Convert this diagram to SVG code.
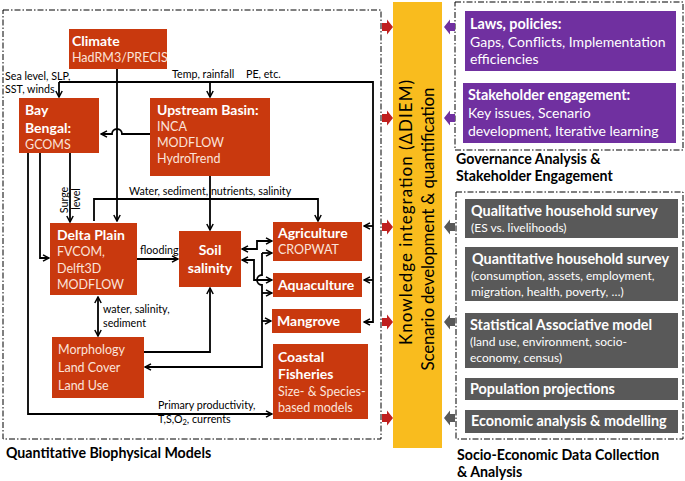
<svg xmlns="http://www.w3.org/2000/svg" width="685" height="481" viewBox="0 0 685 481">
<defs>
<marker id="ah" viewBox="0 0 8 8" refX="7" refY="4" markerWidth="8" markerHeight="8" markerUnits="userSpaceOnUse" orient="auto-start-reverse">
<path d="M1,0.8 L7,4 L1,7.2" fill="none" stroke="#000" stroke-width="1.5"/>
</marker>
<path id="rarrow" d="M0,-4 H5 V-7.5 L11,0 L5,7.5 V4 H0 Z"/>
</defs>
<style>
text{font-family:Lato,"Liberation Sans",sans-serif}
.box{fill:#c9390e}
.pbox{fill:#7030a0}
.gbox{fill:#595959}
.bt{font-weight:bold;font-size:14px;fill:#fff}
.bx{font-size:12.5px;fill:#fbe3da}
.lb{font-size:10.7px;fill:#000}
.rt{font-weight:bold;font-size:14.4px;fill:#fff}
.rx{font-size:14px;fill:#fff}
.rs{font-size:12px;fill:#fff}
.hd{font-weight:bold;font-size:14.2px;fill:#000}
.dash{fill:none;stroke:#000;stroke-width:1;stroke-dasharray:6 2 1.5 2}
.cn path{fill:none;stroke:#000;stroke-width:1.8}
</style>

<!-- dashed group frames -->
<rect class="dash" x="3" y="10" width="378" height="429"/>
<rect class="dash" x="455" y="2" width="228" height="148"/>
<rect class="dash" x="456" y="192" width="227" height="247"/>

<!-- central yellow bar -->
<g id="knowledge">
<rect x="393" y="2" width="49" height="446" fill="#f9bc1e"/>
<text transform="translate(412,212.5) rotate(-90)" text-anchor="middle" font-family="Liberation Sans,Arial,sans-serif" font-size="17" textLength="265" lengthAdjust="spacing" fill="#000">Knowledge integration (ΔDIEM)</text>
<text transform="translate(434,229) rotate(-90)" text-anchor="middle" font-family="Liberation Sans,Arial,sans-serif" font-size="17" textLength="283" lengthAdjust="spacing" fill="#000">Scenario development &amp; quantification</text>
</g>

<!-- block arrows -->
<g id="block-arrows">
<g fill="#c0201f">
<use href="#rarrow" transform="translate(382,27)"/>
<use href="#rarrow" transform="translate(382,118)"/>
<use href="#rarrow" transform="translate(382,227)"/>
<use href="#rarrow" transform="translate(382,322)"/>
<use href="#rarrow" transform="translate(382,418)"/>
</g>
<g fill="#7030a0">
<use href="#rarrow" transform="translate(455,27) scale(-1,1)"/>
<use href="#rarrow" transform="translate(455,118) scale(-1,1)"/>
</g>
<g fill="#595959">
<use href="#rarrow" transform="translate(455,227) scale(-1,1)"/>
<use href="#rarrow" transform="translate(455,322) scale(-1,1)"/>
<use href="#rarrow" transform="translate(455,418) scale(-1,1)"/>
</g>
</g>

<!-- connectors -->
<g id="connectors" class="cn">
<path d="M117,69 V221" marker-end="url(#ah)"/>
<path d="M59,82 H373 V322 H364" marker-end="url(#ah)"/>
<path d="M59,82 V97" marker-end="url(#ah)"/>
<path d="M210,82 V97" marker-end="url(#ah)"/>
<path d="M373,226 H364" marker-end="url(#ah)"/>
<path d="M373,280 H364" marker-end="url(#ah)"/>
<path d="M150,134 H122 A5,5 0 0 0 112,134 H101" marker-end="url(#ah)"/>
<path d="M210,176 V230" marker-end="url(#ah)"/>
<path d="M94,221 V199 H318 V221" marker-end="url(#ah)"/>
<path d="M40,153 V258 H49" marker-end="url(#ah)"/>
<path d="M70,153 V222" marker-end="url(#ah)"/>
<path d="M28,153 V414 H272" marker-end="url(#ah)"/>
<path d="M137,259 H178" marker-end="url(#ah)"/>
<path d="M98,297 V336" marker-start="url(#ah)" marker-end="url(#ah)"/>
<path d="M144,352 H210 V288" marker-end="url(#ah)"/>
<path d="M262,253 V275 A5,5 0 0 0 262,285 V367 H145" marker-end="url(#ah)"/>
<path d="M262,253 H272" marker-end="url(#ah)"/>
<path d="M262,293 H272" marker-end="url(#ah)"/>
<path d="M262,321 H271" marker-end="url(#ah)"/>
<path d="M242,249 H257 V241 H272" marker-start="url(#ah)" marker-end="url(#ah)"/>
<path d="M242,260 H254 V280 H272" marker-start="url(#ah)" marker-end="url(#ah)"/>
</g>

<!-- connector labels -->
<g id="labels">
<text class="lb" x="5" y="80">Sea level, SLP,</text>
<text class="lb" x="5" y="93">SST, winds</text>
<text class="lb" x="172" y="78">Temp, rainfall</text>
<text class="lb" x="246" y="78">PE, etc.</text>
<text class="lb" x="129" y="195">Water, sediment, nutrients, salinity</text>
<text class="lb" transform="translate(67.5,200) rotate(-90)" text-anchor="middle">Surge</text>
<text class="lb" transform="translate(80,199) rotate(-90)" text-anchor="middle">level</text>
<text class="lb" x="140" y="254">flooding</text>
<text class="lb" x="103" y="313">water, salinity,</text>
<text class="lb" x="103" y="327">sediment</text>
<text class="lb" x="158" y="409">Primary productivity,</text>
<text class="lb" x="158" y="423">T,S,O<tspan font-size="7.5" dy="2">2</tspan><tspan dy="-2">, currents</tspan></text>
</g>

<!-- biophysical nodes -->
<g id="climate">
<rect class="box" x="69" y="29" width="98" height="40"/>
<text class="bt" x="72" y="46">Climate</text>
<text class="bx" x="72" y="62">HadRM3/PRECIS</text>
</g>
<g id="bay-bengal">
<rect class="box" x="19" y="98" width="80" height="55"/>
<text class="bt" x="25" y="115">Bay</text>
<text class="bt" x="25" y="133">Bengal:</text>
<text class="bx" x="25" y="149">GCOMS</text>
</g>
<g id="upstream-basin">
<rect class="box" x="150" y="98" width="120" height="78"/>
<text class="bt" x="157" y="115">Upstream Basin:</text>
<text class="bx" x="157" y="131">INCA</text>
<text class="bx" x="157" y="147">MODFLOW</text>
<text class="bx" x="157" y="163">HydroTrend</text>
</g>
<g id="delta-plain">
<rect class="box" x="50" y="223" width="87" height="72"/>
<text class="bt" x="57" y="240">Delta Plain</text>
<text class="bx" x="57" y="256">FVCOM,</text>
<text class="bx" x="57" y="273">Delft3D</text>
<text class="bx" x="57" y="289">MODFLOW</text>
</g>
<g id="soil-salinity">
<rect class="box" x="179" y="231" width="62" height="56"/>
<text class="bt" x="210" y="255" text-anchor="middle" font-size="15">Soil</text>
<text class="bt" x="210" y="273" text-anchor="middle" font-size="15">salinity</text>
</g>
<g id="morphology">
<rect class="box" x="52" y="337" width="92" height="61"/>
<text class="bx" x="58" y="354" font-size="16">Morphology</text>
<text class="bx" x="58" y="372" font-size="16">Land Cover</text>
<text class="bx" x="58" y="390" font-size="16">Land Use</text>
</g>
<g id="agriculture">
<rect class="box" x="273" y="222" width="89" height="39"/>
<text class="bt" x="278" y="238">Agriculture</text>
<text class="bx" x="278" y="254">CROPWAT</text>
</g>
<g id="aquaculture">
<rect class="box" x="273" y="273" width="89" height="24"/>
<text class="bt" x="278" y="290">Aquaculture</text>
</g>
<g id="mangrove">
<rect class="box" x="272" y="309" width="89" height="24"/>
<text class="bt" x="277" y="326">Mangrove</text>
</g>
<g id="coastal-fisheries">
<rect class="box" x="273" y="344" width="95" height="75"/>
<text class="bt" x="278" y="362">Coastal</text>
<text class="bt" x="278" y="379">Fisheries</text>
<text class="bx" x="278" y="396">Size- &amp; Species-</text>
<text class="bx" x="278" y="412">based models</text>
</g>

<!-- governance nodes -->
<g id="laws">
<rect class="pbox" x="465" y="11" width="211" height="60"/>
<text class="rt" x="470" y="29">Laws, policies:</text>
<text class="rx" x="470" y="47">Gaps, Conflicts, Implementation</text>
<text class="rx" x="470" y="64">efficiencies</text>
</g>
<g id="stakeholder">
<rect class="pbox" x="463" y="83" width="213" height="60"/>
<text class="rt" x="468" y="100">Stakeholder engagement:</text>
<text class="rx" x="468" y="118">Key issues, Scenario</text>
<text class="rx" x="468" y="136">development, Iterative learning</text>
</g>

<!-- socio-economic nodes -->
<g id="qualitative">
<rect class="gbox" x="465" y="199" width="213" height="39"/>
<text class="rt" x="471" y="216">Qualitative household survey</text>
<text class="rs" x="471" y="232">(ES vs. livelihoods)</text>
</g>
<g id="quantitative">
<rect class="gbox" x="465" y="247" width="213" height="54"/>
<text class="rt" x="472" y="264">Quantitative household survey</text>
<text class="rs" x="471" y="280" font-size="13.5">(consumption, assets, employment,</text>
<text class="rs" x="471" y="296" font-size="13.5">migration, health, poverty, …)</text>
</g>
<g id="statistical">
<rect class="gbox" x="465" y="313" width="213" height="55"/>
<text class="rt" x="470" y="330">Statistical Associative model</text>
<text class="rs" x="470" y="346" font-size="13.5"> (land use, environment, socio-</text>
<text class="rs" x="470" y="362" font-size="13.5">economy, census)</text>
</g>
<g id="population">
<rect class="gbox" x="465" y="378" width="213" height="22"/>
<text class="rt" x="470" y="394">Population projections</text>
</g>
<g id="economic">
<rect class="gbox" x="465" y="410" width="213" height="23"/>
<text class="rt" x="471" y="426">Economic analysis &amp; modelling</text>
</g>

<!-- section headings -->
<g id="headings">
<text class="hd" x="6" y="458">Quantitative Biophysical Models</text>
<text class="hd" x="456" y="164">Governance Analysis &amp;</text>
<text class="hd" x="456" y="181">Stakeholder Engagement</text>
<text class="hd" x="457" y="460">Socio-Economic Data Collection</text>
<text class="hd" x="457" y="477">&amp; Analysis</text>
</g>
</svg>
